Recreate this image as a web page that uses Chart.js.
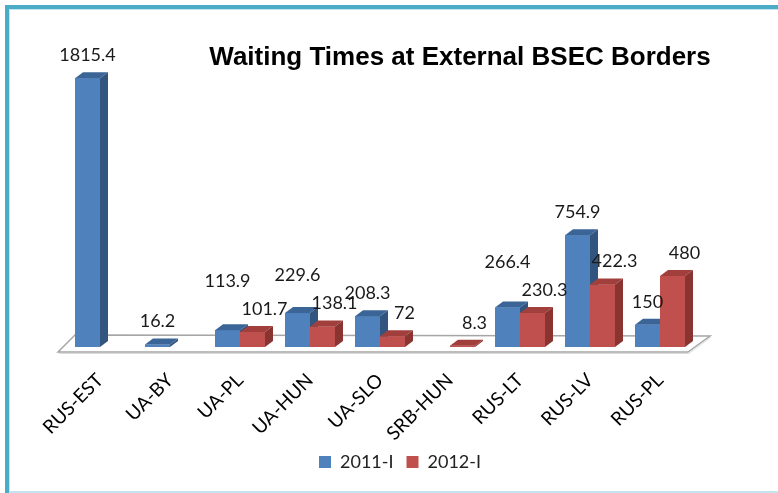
<!DOCTYPE html>
<html>
<head>
<meta charset="utf-8">
<script src="https://cdn.jsdelivr.net/npm/chart.js@4.4.1/dist/chart.umd.min.js"></script>
<style>
  html, body { margin: 0; padding: 0; background: #fff; }
  #wrap { position: relative; width: 778px; height: 493px; overflow: hidden; }
  #frame { position: absolute; left: 5px; top: 5px; width: 800px; height: 500px;
           border-left: 4px solid #4BACC6; border-top: 4px solid #4BACC6; }
  #inner { position: absolute; left: 9px; top: 9px; width: 800px; height: 481px;
           border-left: 1px solid #C4E5EF; border-top: 1px solid #C4E5EF; border-bottom: 2px solid #C4E5EF; }
  canvas { position: absolute; left: 0; top: 0; }
</style>
</head>
<body>
<div id="wrap">
  <canvas id="chart" width="778" height="493"></canvas>
  <div id="frame"></div>
  <div id="inner"></div>
</div>
<script>
var chartTitle = "Waiting Times at External BSEC Borders";
var crossings = ["RUS-EST", "UA-BY", "UA-PL", "UA-HUN", "UA-SLO", "SRB-HUN", "RUS-LT", "RUS-LV", "RUS-PL"];
var wait2011 = [1815.4, 16.2, 113.9, 229.6, 208.3, null, 266.4, 754.9, 150];
var wait2012 = [null, null, 101.7, 138.1, 72, 8.3, 230.3, 422.3, 480];

var DX = 8, DY = 6; // depth of the fake 3d

var bars3d = {
    id: "bars3d",
    beforeDatasetsDraw: function (chart) {
        var ctx = chart.ctx, a = chart.chartArea;
        var yb = chart.scales.y.getPixelForValue(0);
        ctx.save();
        ctx.beginPath();
        ctx.moveTo(a.left - 7, yb + 5);
        ctx.lineTo(a.right - 7, yb + 5);
        ctx.lineTo(a.right + 15, yb - 11);
        ctx.lineTo(a.left + 10, yb - 12);
        ctx.closePath();
        ctx.fillStyle = "#fff";
        ctx.fill();
        ctx.strokeStyle = "#a6a6a6";
        ctx.lineWidth = 1.5;
        ctx.stroke();
        ctx.beginPath();
        ctx.moveTo(a.left - 6, yb + 6.5);
        ctx.lineTo(a.right - 6, yb + 6.5);
        ctx.lineTo(a.right + 16, yb - 10);
        ctx.strokeStyle = "#dcdcdc";
        ctx.lineWidth = 1;
        ctx.stroke();
        ctx.restore();
    },
    afterDatasetsDraw: function (chart) {
        // repaint every bar left to right so each side face hides behind its neighbour
        var ctx = chart.ctx;
        var sets = chart.data.datasets;
        ctx.save();
        chart.data.labels.forEach(function (lab, i) {
            sets.forEach(function (ds, di) {
                if (ds.data[i] == null) return;
                var bar = chart.getDatasetMeta(di).data[i];
                var l = bar.x - bar.width / 2, r = bar.x + bar.width / 2, t = bar.y, b = bar.base;
                ctx.fillStyle = ds.backgroundColor;
                ctx.fillRect(l, t, r - l, b - t);
                ctx.fillStyle = ds.topColor;
                ctx.beginPath();
                ctx.moveTo(l, t);
                ctx.lineTo(l + DX, t - DY);
                ctx.lineTo(r + DX, t - DY);
                ctx.lineTo(r, t);
                ctx.closePath();
                ctx.fill();
                ctx.fillStyle = ds.sideColor;
                ctx.beginPath();
                ctx.moveTo(r, t);
                ctx.lineTo(r + DX, t - DY);
                ctx.lineTo(r + DX, b - DY);
                ctx.lineTo(r, b);
                ctx.closePath();
                ctx.fill();
            });
        });
        ctx.restore();
    },
    afterDraw: function (chart) {
        var ctx = chart.ctx;
        ctx.save();
        // value labels
        var groups = [];
        chart.data.datasets.forEach(function (ds, di) {
            chart.getDatasetMeta(di).data.forEach(function (bar, i) {
                var v = ds.data[i];
                if (v == null) return;
                groups[i] = groups[i] || [];
                groups[i][di] = { text: String(v), x: bar.x + (di === 1 ? 12 : 0), y: bar.y - DY - 17 };
            });
        });
        ctx.font = "18px Lato";
        ctx.fillStyle = "#1a1a1a";
        ctx.textAlign = "center";
        ctx.textBaseline = "middle";
        groups.forEach(function (g) {
            if (!g) return;
            var bl = g[0], rd = g[1];
            if (bl && rd) {
                var need = (ctx.measureText(bl.text).width + ctx.measureText(rd.text).width) / 2 + 2;
                if (rd.x - bl.x < need && Math.abs(rd.y - bl.y) < 20) {
                    bl.y = Math.min(bl.y, rd.y - 28);
                }
            }
            [bl, rd].forEach(function (it) {
                if (it) ctx.fillText(it.text, it.x, it.y);
            });
        });
        // title
        ctx.font = "bold 26px 'Liberation Sans', Arial, sans-serif";
        ctx.fillStyle = "#000";
        ctx.textAlign = "center";
        ctx.textBaseline = "alphabetic";
        ctx.fillText(chartTitle, 460, 65);
        ctx.restore();
    }
};

var ctx = document.getElementById("chart").getContext("2d");
new Chart(ctx, {
    type: "bar",
    data: {
        labels: crossings,
        datasets: [{
            label: "2011-I",
            data: wait2011,
            backgroundColor: "#4f81bd",
            topColor: "#3c6597",
            sideColor: "#32557f"
        }, {
            label: "2012-I",
            data: wait2012,
            backgroundColor: "#c0504d",
            topColor: "#a03f3c",
            sideColor: "#8a3431"
        }]
    },
    plugins: [bars3d],
    options: {
        responsive: false,
        animation: false,
        layout: { padding: { left: 22, right: 0, top: 51, bottom: 12 } },
        datasets: {
            bar: { categoryPercentage: 50 / 70, barPercentage: 1, borderWidth: 0 }
        },
        scales: {
            x: {
                grid: { display: false },
                border: { display: false },
                ticks: {
                    color: "#000",
                    font: { family: "Lato", size: 19 },
                    minRotation: 45,
                    maxRotation: 45,
                    padding: 14
                },
                afterFit: function (s) { s.height = 93; }
            },
            y: {
                min: 0,
                max: 2000,
                grid: { display: false },
                border: { display: false },
                ticks: { display: false },
                afterFit: function (s) { s.width = 43; }
            },
            y2: {
                position: "right",
                grid: { display: false },
                border: { display: false },
                ticks: { display: false },
                afterFit: function (s) { s.width = 83; }
            }
        },
        plugins: {
            legend: {
                position: "bottom",
                labels: {
                    boxWidth: 12,
                    boxHeight: 12,
                    color: "#222",
                    padding: 13,
                    font: { family: "Lato", size: 18 }
                }
            },
            tooltip: { enabled: false }
        }
    }
});
</script>
</body>
</html>
